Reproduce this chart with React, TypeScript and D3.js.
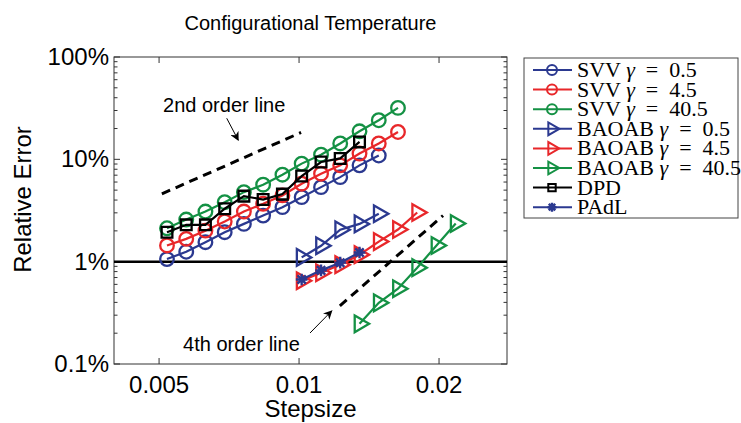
import React, { useRef, useEffect } from "react";
import * as d3 from "d3";

// step sizes (shared grid, ratio ~1.1)
const svvSteps = [0.0052, 0.00572, 0.00629, 0.00692, 0.00761, 0.00837, 0.00921, 0.01013, 0.01115, 0.01226, 0.01349, 0.01484, 0.01632];
const svvBlueSteps = [0.0052, 0.00572, 0.00629, 0.00692, 0.00761, 0.00837, 0.00921, 0.01013, 0.01115, 0.01226, 0.01349, 0.01484];
const dpdSteps = [0.0052, 0.00572, 0.00629, 0.00692, 0.00761, 0.00837, 0.00921, 0.01013, 0.01115, 0.01226, 0.01349];
const baoabBlueSteps = [0.01013, 0.01115, 0.01226, 0.01349, 0.01484];
const baoabRedSteps = [0.01013, 0.01115, 0.01226, 0.01349, 0.01484, 0.01632, 0.01795];
const baoabGreenSteps = [0.01349, 0.01484, 0.01632, 0.01795, 0.01975, 0.02172];
const padlSteps = [0.01013, 0.01115, 0.01226, 0.01349];

// relative errors (fraction)
const svvBlue = [0.0106, 0.0125, 0.0155, 0.0194, 0.0234, 0.0282, 0.0341, 0.0427, 0.0535, 0.067, 0.0873, 0.109];
const svvRed = [0.0144, 0.0167, 0.0201, 0.0247, 0.0309, 0.0368, 0.0444, 0.0578, 0.0724, 0.0873, 0.114, 0.143, 0.185];
const svvGreen = [0.0212, 0.0258, 0.0309, 0.0381, 0.0478, 0.0565, 0.0708, 0.0908, 0.111, 0.143, 0.188, 0.241, 0.318];
const baoabBlue = [0.011, 0.0143, 0.0205, 0.0234, 0.0294];
const baoabRed = [0.00651, 0.0078, 0.00935, 0.0117, 0.0157, 0.0206, 0.0302];
const baoabGreen = [0.00247, 0.00396, 0.00544, 0.00874, 0.0144, 0.0236];
const dpd = [0.0194, 0.0229, 0.0229, 0.0329, 0.0437, 0.0405, 0.0457, 0.0686, 0.0941, 0.102, 0.148];
const padl = [0.00669, 0.00822, 0.00978, 0.0123];

// reference order lines
const line2Steps = [0.00507, 0.0101];
const line2Vals = [0.046, 0.183];
const line4Steps = [0.01224, 0.0204];
const line4Vals = [0.0037, 0.0282];

const xTicks = [0.005, 0.01, 0.02];
const xTickLabels = ["0.005", "0.01", "0.02"];
const yTicks = [0.001, 0.01, 0.1, 1];
const yTickLabels = ["0.1%", "1%", "10%", "100%"];

const BLUE = "#2b3990";
const RED = "#e8272a";
const GREEN = "#149144";

const series = [
  { name: "SVV", gamma: "0.5", color: BLUE, marker: "circle", steps: svvBlueSteps, values: svvBlue },
  { name: "SVV", gamma: "4.5", color: RED, marker: "circle", steps: svvSteps, values: svvRed },
  { name: "SVV", gamma: "40.5", color: GREEN, marker: "circle", steps: svvSteps, values: svvGreen },
  { name: "BAOAB", gamma: "0.5", color: BLUE, marker: "triangle", steps: baoabBlueSteps, values: baoabBlue },
  { name: "BAOAB", gamma: "4.5", color: RED, marker: "triangle", steps: baoabRedSteps, values: baoabRed },
  { name: "BAOAB", gamma: "40.5", color: GREEN, marker: "triangle", steps: baoabGreenSteps, values: baoabGreen },
  { name: "DPD", gamma: null, color: "#000", marker: "square", steps: dpdSteps, values: dpd },
  { name: "PAdL", gamma: null, color: BLUE, marker: "star", steps: padlSteps, values: padl },
];

const drawMarker = (g: any, type: string, color: string, big: boolean) => {
  const sw = big ? 2.3 : 2;
  if (type === "circle") {
    g.append("circle").attr("r", big ? 6.8 : 5).attr("fill", "none").attr("stroke", color).attr("stroke-width", sw);
  } else if (type === "triangle") {
    g.append("path")
      .attr("d", d3.symbol(d3.symbolTriangle, big ? 120 : 70)())
      .attr("transform", "rotate(90)")
      .attr("fill", "none").attr("stroke", color).attr("stroke-width", sw);
  } else if (type === "square") {
    g.append("path")
      .attr("d", d3.symbol(d3.symbolSquare, big ? 115 : 55)())
      .attr("fill", "none").attr("stroke", color).attr("stroke-width", sw);
  } else {
    const r = big ? 5.8 : 4.5;
    const q = r * 0.72;
    g.append("path")
      .attr("d", `M${-r},0H${r}M0,${-r}V${r}M${-q},${-q}L${q},${q}M${-q},${q}L${q},${-q}`)
      .attr("fill", "none").attr("stroke", color).attr("stroke-width", 2.4);
  }
};

const App = () => {
  const svgRef = useRef<SVGSVGElement>(null);

  useEffect(() => {
    if (!svgRef.current) return;
    const root = d3.select(svgRef.current);
    root.selectAll("*").remove();

    const W = 741;
    const H = 423;
    const left = 114, right = 507, top = 57, bottom = 364;
    const sans = "'Liberation Sans', Arial, Helvetica, sans-serif";
    const serif = "'Liberation Serif', 'Times New Roman', serif";

    root.attr("width", W).attr("height", H);
    root.append("rect").attr("width", W).attr("height", H).attr("fill", "#fff");

    const x = d3.scaleLog().domain([0.004, 0.028]).range([left, right]);
    const y = d3.scaleLog().domain([0.001, 1]).range([bottom, top]);

    // title
    root.append("text")
      .attr("x", (left + right) / 2).attr("y", 30)
      .attr("text-anchor", "middle")
      .style("font-family", sans).style("font-size", "20px")
      .text("Configurational Temperature");

    // box
    root.append("rect")
      .attr("x", left).attr("y", top)
      .attr("width", right - left).attr("height", bottom - top)
      .attr("fill", "none").attr("stroke", "#333").attr("stroke-width", 1);

    // y ticks (major + minor), inward on both sides
    const ax = root.append("g").attr("stroke", "#333").attr("stroke-width", 1);
    y.ticks().forEach((t) => {
      const major = Math.abs(Math.log10(t) - Math.round(Math.log10(t))) < 1e-6;
      const len = major ? 6 : 3.5;
      ax.append("line").attr("x1", left).attr("x2", left + len).attr("y1", y(t)).attr("y2", y(t));
      ax.append("line").attr("x1", right).attr("x2", right - len).attr("y1", y(t)).attr("y2", y(t));
    });
    xTicks.forEach((t) => {
      ax.append("line").attr("x1", x(t)).attr("x2", x(t)).attr("y1", bottom).attr("y2", bottom - 6);
      ax.append("line").attr("x1", x(t)).attr("x2", x(t)).attr("y1", top).attr("y2", top + 6);
    });

    // tick labels
    yTicks.forEach((t, i) => {
      root.append("text")
        .attr("x", left - 5).attr("y", y(t) + 8)
        .attr("text-anchor", "end")
        .style("font-family", sans).style("font-size", "24px")
        .text(yTickLabels[i]);
    });
    xTicks.forEach((t, i) => {
      root.append("text")
        .attr("x", x(t)).attr("y", 393)
        .attr("text-anchor", "middle")
        .style("font-family", sans).style("font-size", "24px")
        .text(xTickLabels[i]);
    });

    // axis titles
    root.append("text")
      .attr("x", (left + right) / 2).attr("y", 417)
      .attr("text-anchor", "middle")
      .style("font-family", sans).style("font-size", "24px")
      .text("Stepsize");
    root.append("text")
      .attr("transform", `translate(31,${(top + bottom) / 2 - 11}) rotate(-90)`)
      .attr("text-anchor", "middle")
      .style("font-family", sans).style("font-size", "24px")
      .text("Relative Error");

    const plot = root.append("g");

    // 1% reference line
    plot.append("line")
      .attr("x1", left).attr("x2", right)
      .attr("y1", y(0.01)).attr("y2", y(0.01))
      .attr("stroke", "#000").attr("stroke-width", 2.5);

    // order lines
    const line = d3.line<[number, number]>().x((d) => x(d[0])).y((d) => y(d[1]));
    [[line2Steps, line2Vals], [line4Steps, line4Vals]].forEach(([s, v]) => {
      plot.append("path")
        .attr("d", line(s.map((d, i) => [d, v[i]]) as [number, number][]))
        .attr("fill", "none").attr("stroke", "#000")
        .attr("stroke-width", 3).attr("stroke-dasharray", "9,6");
    });

    // series
    series.forEach((s) => {
      const pts = s.steps.map((d, i) => [d, s.values[i]] as [number, number]);
      plot.append("path")
        .attr("d", line(pts))
        .attr("fill", "none").attr("stroke", s.color).attr("stroke-width", 2.2);
      pts.forEach((p) => {
        const g = plot.append("g").attr("transform", `translate(${x(p[0])},${y(p[1])})`);
        drawMarker(g, s.marker, s.color, true);
      });
    });

    // annotations
    const defs = root.append("defs");
    defs.append("marker")
      .attr("id", "arrowHead").attr("viewBox", "0 0 10 10")
      .attr("refX", 9).attr("refY", 5)
      .attr("markerWidth", 9).attr("markerHeight", 9)
      .attr("markerUnits", "userSpaceOnUse")
      .attr("orient", "auto")
      .append("path").attr("d", "M0,0L10,5L0,10L3,5Z").attr("fill", "#000");

    plot.append("text")
      .attr("x", x(0.0051)).attr("y", y(0.289))
      .style("font-family", sans).style("font-size", "20px")
      .text("2nd order line");
    plot.append("line")
      .attr("x1", x(0.00699)).attr("y1", y(0.252))
      .attr("x2", x(0.0074)).attr("y2", y(0.154))
      .attr("stroke", "#000").attr("stroke-width", 1)
      .attr("marker-end", "url(#arrowHead)");

    plot.append("text")
      .attr("x", x(0.00563)).attr("y", y(0.00134))
      .style("font-family", sans).style("font-size", "20px")
      .text("4th order line");
    plot.append("line")
      .attr("x1", x(0.01056)).attr("y1", y(0.00201))
      .attr("x2", x(0.01176)).attr("y2", y(0.00331))
      .attr("stroke", "#000").attr("stroke-width", 1)
      .attr("marker-end", "url(#arrowHead)");

    // legend
    const lx = 524, ly = 58, lw = 214, lh = 160;
    const lg = root.append("g");
    lg.append("rect")
      .attr("x", lx).attr("y", ly).attr("width", lw).attr("height", lh)
      .attr("fill", "#fff").attr("stroke", "#444").attr("stroke-width", 1);
    series.forEach((s, i) => {
      const yy = 70 + i * 19.6;
      lg.append("line")
        .attr("x1", 533).attr("x2", 572).attr("y1", yy).attr("y2", yy)
        .attr("stroke", s.color).attr("stroke-width", 2);
      const g = lg.append("g").attr("transform", `translate(552,${yy})`);
      drawMarker(g, s.marker, s.color, false);
      const t = lg.append("text")
        .attr("x", 577).attr("y", yy + 7)
        .attr("xml:space", "preserve")
        .style("font-family", serif).style("font-size", "22px")
        .style("white-space", "pre");
      if (s.gamma) {
        t.append("tspan").text(s.name + " ");
        t.append("tspan").style("font-style", "italic").text("γ");
        t.append("tspan").text("  =  " + s.gamma);
      } else {
        t.text(s.name);
      }
    });
  }, []);

  return (
    <div style={{ position: "absolute", left: 0, top: 0 }}>
      <svg ref={svgRef} style={{ display: "block" }}></svg>
    </div>
  );
};

export default App;
